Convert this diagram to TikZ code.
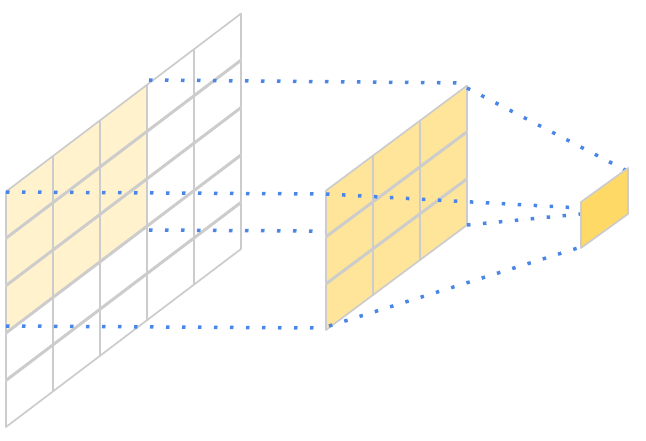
\documentclass[tikz,border=0pt]{standalone}
\definecolor{hlcol}{HTML}{FFF2CC}
\definecolor{midcol}{HTML}{FFE599}
\definecolor{outcol}{HTML}{FFD966}
\definecolor{gridgray}{HTML}{CCCCCC}
\definecolor{dotblue}{HTML}{4A86E8}
\tikzset{
  cellline/.style={draw=gridgray, line width=1.7pt, line join=round},
  proj/.style={draw=dotblue, line width=3.5pt, dash pattern=on 3.5pt off 12.5pt},
}
\newcommand\gridcell[6]{%
  \filldraw[cellline, fill=#6] (#1,#2+1.6) -- ++(#3,-#4) -- ++(0,#5-1.6) -- ++(-#3,#4) -- cycle;}
\begin{document}
\begin{tikzpicture}[x=1pt,y=-1pt]
\useasboundingbox (0,0) rectangle (646,441);
% left input grid 5x5
\foreach \j in {0,...,4}{
  \foreach \i in {0,...,4}{
    \pgfmathsetmacro\cx{6+47*\i}
    \pgfmathsetmacro\cy{190-35.6*\i+47.4*\j}
    \def\fc{white}
    \ifnum\i<3 \ifnum\j<3 \def\fc{hlcol}\fi\fi
    \gridcell{\cx}{\cy}{47}{35.6}{47.4}{\fc}
  }
}
% endpoints
\coordinate (a1) at (149,80);   \coordinate (b1) at (465,83);
\coordinate (a2) at (6,192);    \coordinate (b2) at (326,194);
\coordinate (a3) at (149,230);  \coordinate (b3) at (467,232);
\coordinate (a4) at (6,326);    \coordinate (b4) at (318,328);
\coordinate (m1) at (467,88);   \coordinate (r1) at (627,171);
\coordinate (m2) at (326,194);  \coordinate (r2) at (581,208);
\coordinate (m3) at (467,225);  \coordinate (r3) at (581,214);
\coordinate (m4) at (329,326);  \coordinate (r4) at (581,247);
% projections input -> middle
\draw[proj] (a1) -- (b1);
\draw[proj] (a2) -- (b2);
\draw[proj] (a3) -- (b3);
\draw[proj] (a4) -- (b4);
% middle grid 3x3
\foreach \j in {0,...,2}{
  \foreach \i in {0,...,2}{
    \pgfmathsetmacro\cx{326+47*\i}
    \pgfmathsetmacro\cy{189-35*\i+47*\j}
    \gridcell{\cx}{\cy}{47}{35}{47}{midcol}
  }
}
% projections middle -> output
\draw[proj] (m1) -- (r1);
\draw[proj] (m2) -- (r2);
\draw[proj] (m3) -- (r3);
\draw[proj] (m4) -- (r4);
% output cell
\filldraw[cellline, fill=outcol] (581,202) -- (628,168) -- (628,214) -- (581,248) -- cycle;
\end{tikzpicture}
\end{document}
